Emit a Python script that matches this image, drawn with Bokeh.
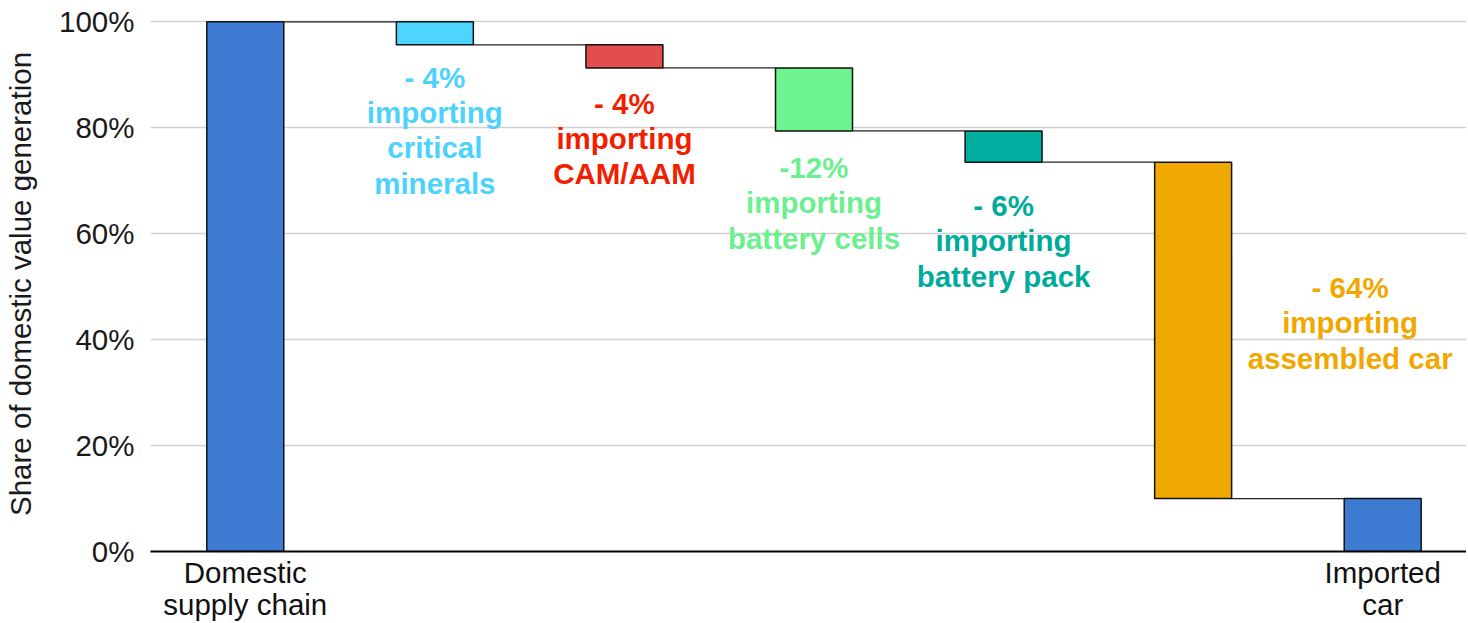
from bokeh.plotting import figure
from bokeh.models import Range1d, FixedTicker
from bokeh.core.properties import value
from bokeh.embed import file_html
from bokeh.resources import INLINE

# ---- data ----
steps = ["Domestic supply chain", "critical minerals", "CAM/AAM", "battery cells",
         "battery pack", "assembled car", "Imported car"]
start_value = 100.0
changes = [-4.35, -4.35, -11.9, -5.9, -63.5]
tick_labels = {0: "Domestic\nsupply chain", 6: "Imported\ncar"}
y_ticks = [0, 20, 40, 60, 80, 100]
y_title = "Share of domestic value generation"
change_labels = ["- 4%\nimporting\ncritical\nminerals",
                 "- 4%\nimporting\nCAM/AAM",
                 "-12%\nimporting\nbattery cells",
                 "- 6%\nimporting\nbattery pack",
                 "- 64%\nimporting\nassembled car"]
bar_colors = ["#3d7bd2", "#4dd5ff", "#e34d4b", "#6ef592", "#00ad9f", "#f0a900", "#3d7bd2"]
text_colors = ["#4dd2fb", "#f21e00", "#6cf08f", "#00ab9c", "#f0a800"]

# ---- derived bars ----
tops, bottoms = [start_value], [0.0]
level = start_value
for c in changes:
    tops.append(level)
    level = level + c
    bottoms.append(level)
tops.append(level)
bottoms.append(0.0)
xs = list(range(len(steps)))
W = 0.406
FONT = "Liberation Sans"
FS = "29.5px"

p = figure(width=1466, height=623, output_backend="svg", toolbar_location=None,
           x_range=Range1d(-0.5, 6.442), y_range=Range1d(0, 101),
           min_border_left=150, min_border_right=0, min_border_top=16, min_border_bottom=70)
p.outline_line_color = None
p.background_fill_color = "white"

p.vbar(x=xs, width=W, top=tops, bottom=bottoms, fill_color=bar_colors,
       line_color="#111111", line_width=1.5)

# connectors: from right edge of bar i to left edge of bar i+1 at the running level
cx0 = [xs[i] + W / 2 for i in range(len(steps) - 1)]
cx1 = [xs[i + 1] - W / 2 for i in range(len(steps) - 1)]
cy = [tops[i + 1] for i in range(len(steps) - 1)]
p.segment(x0=cx0, y0=cy, x1=cx1, y1=cy, line_color="#222222", line_width=1.2)

# change labels
offs = [16, 19, 20, 27]
for k in range(4):
    i = k + 1
    p.text(x=[xs[i]], y=[bottoms[i]], text=[change_labels[k]], text_align="center",
           text_baseline="top", y_offset=offs[k], text_color=text_colors[k],
           text_font=value(FONT), text_font_style="bold",
           text_font_size=FS, text_line_height=1.07)
mid = (tops[5] + bottoms[5]) / 2
p.text(x=[xs[5]], y=[mid], text=[change_labels[4]], text_align="center",
       text_baseline="middle", x_offset=157, y_offset=-7.5, text_color=text_colors[4],
       text_font=value(FONT), text_font_style="bold",
       text_font_size=FS, text_line_height=1.07)

# axes
p.xaxis.ticker = FixedTicker(ticks=[0, 6])
p.xaxis.major_label_overrides = tick_labels
p.xaxis.major_tick_line_color = None
p.xaxis.major_tick_out = 0
p.xaxis.major_tick_in = 0
p.xaxis.minor_tick_line_color = None
p.xaxis.axis_line_color = "black"
p.xaxis.axis_line_width = 2
p.xaxis.major_label_text_font = FONT
p.xaxis.major_label_text_font_size = FS
p.xaxis.major_label_text_color = "#111111"
p.xaxis.major_label_standoff = 4
p.xaxis.major_label_text_line_height = 0.97

p.yaxis.ticker = FixedTicker(ticks=y_ticks)
p.yaxis.major_label_overrides = {v: f"{v}%" for v in y_ticks}
p.yaxis.axis_line_color = None
p.yaxis.major_tick_line_color = None
p.yaxis.major_tick_out = 0
p.yaxis.major_tick_in = 0
p.yaxis.minor_tick_line_color = None
p.yaxis.major_label_text_font = FONT
p.yaxis.major_label_text_font_size = FS
p.yaxis.major_label_text_color = "#1a1a1a"
p.yaxis.major_label_standoff = 16
p.yaxis.axis_label = y_title
p.yaxis.axis_label_text_font = FONT
p.yaxis.axis_label_text_font_size = FS
p.yaxis.axis_label_text_font_style = "normal"
p.yaxis.axis_label_text_color = "#1a1a1a"
p.yaxis.axis_label_standoff = 19

p.xgrid.grid_line_color = None
p.ygrid.grid_line_color = "#d0d0d0"
p.ygrid.grid_line_width = 1.5

open("out.html", "w").write(file_html(p, INLINE))
